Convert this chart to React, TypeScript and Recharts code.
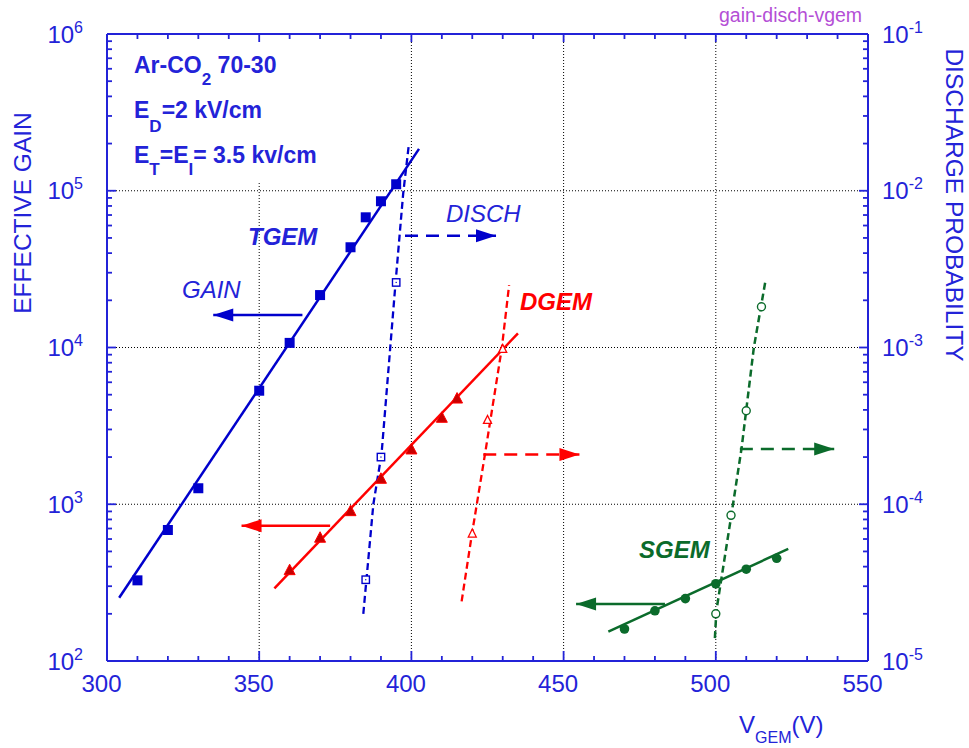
import { ComposedChart, Line, Scatter, XAxis, YAxis, ReferenceLine } from "recharts";

const W = 969;
const H = 748;
// plot frame, px
const PL = 107;
const PR = 868;
const PT = 34;
const PB = 661;

const AXIS = "#2323d8";
const BLUE = "#0000cc";
const RED = "#ff0000";
const DRED = "#c80000";
const GREEN = "#0b6b2b";
const PURPLE = "#b44fd6";
const FONT = "'Liberation Sans', Arial, Helvetica, sans-serif";

// axes
const V_MAJOR = [300, 350, 400, 450, 500, 550];
const V_TICKS = [
  300, 310, 320, 330, 340, 350, 360, 370, 380, 390, 400, 410, 420, 430, 440,
  450, 460, 470, 480, 490, 500, 510, 520, 530, 540, 550,
];
const GAIN_MAJOR = [1e2, 1e3, 1e4, 1e5, 1e6];
const DISCH_MAJOR = [1e-5, 1e-4, 1e-3, 1e-2, 1e-1];
const MINOR_MULT = [2, 3, 4, 5, 6, 7, 8, 9];

// TGEM
const TGEM_V = [310, 320, 330, 350, 360, 370, 380, 385, 390, 395];
const TGEM_GAIN = [327, 685, 1265, 5300, 10700, 21600, 43600, 67700, 85700, 110000];
const TGEM_FIT_V = [304, 402.5];
const TGEM_FIT_GAIN = [253, 185000];
const TGEM_DISCH_V = [385, 390, 395];
const TGEM_DISCH_P = [3.3e-5, 2.0e-4, 2.6e-3];
const TGEM_DISCH_FIT_V = [384.2, 387.5, 390.2, 394.8, 397.3, 399.2];
const TGEM_DISCH_FIT_P = [2.0e-5, 1.0e-4, 2.1e-4, 2.6e-3, 9.6e-3, 2.0e-2];

// DGEM
const DGEM_V = [360, 370, 380, 390, 400, 410, 415];
const DGEM_GAIN = [377, 607, 897, 1443, 2220, 3535, 4690];
const DGEM_FIT_V = [355, 435];
const DGEM_FIT_GAIN = [291, 12300];
const DGEM_DISCH_V = [420, 425, 430];
const DGEM_DISCH_P = [6.5e-5, 3.45e-4, 9.8e-4];
const DGEM_DISCH_FIT_V = [416.5, 419.8, 424.2, 429.7, 432.1];
const DGEM_DISCH_FIT_P = [2.4e-5, 6.3e-5, 2.1e-4, 9.9e-4, 2.5e-3];

// SGEM
const SGEM_V = [470, 480, 490, 500, 510, 520];
const SGEM_GAIN = [160, 209, 250, 311, 385, 452];
const SGEM_FIT_V = [464.7, 523.8];
const SGEM_FIT_GAIN = [154, 519];
const SGEM_DISCH_V = [500, 505, 510, 515];
const SGEM_DISCH_P = [2.0e-5, 8.5e-5, 3.95e-4, 1.82e-3];
const SGEM_DISCH_FIT_V = [499.7, 500.2, 505.3, 508.5, 512.5, 516.4];
const SGEM_DISCH_FIT_P = [1.4e-5, 2.1e-5, 9e-5, 2.3e-4, 1.0e-3, 2.72e-3];

// arrows: [from V, to V], level on the gain axis
const TGEM_GAIN_ARROW = [364.2, 334.9];
const TGEM_GAIN_ARROW_Y = 16100;
const TGEM_DISCH_ARROW = [397.9, 427.8];
const TGEM_DISCH_ARROW_Y = 51600;
const DGEM_GAIN_ARROW = [373.3, 344.2];
const DGEM_GAIN_ARROW_Y = 729;
const DGEM_DISCH_ARROW = [423.6, 455.2];
const DGEM_DISCH_ARROW_Y = 2080;
const SGEM_GAIN_ARROW = [483.3, 454.1];
const SGEM_GAIN_ARROW_Y = 231;
const SGEM_DISCH_ARROW = [507.9, 538.9];
const SGEM_DISCH_ARROW_Y = 2250;

const withMinor = (majors: number[]) =>
  majors.flatMap((m, i) =>
    i === majors.length - 1 ? [m] : [m, ...MINOR_MULT.map((k) => m * k)]
  );
const GAIN_TICKS = withMinor(GAIN_MAJOR);
const DISCH_TICKS = withMinor(DISCH_MAJOR);

const pts = (xs: number[], ys: number[]) => xs.map((x, i) => ({ x, y: ys[i] }));
const flat = (xs: number[], y: number) => xs.map((x) => ({ x, y }));
const exp10 = (v: number) => Math.round(Math.log10(v));

// tick-mark length in axis units
const V_PER_PX = 250 / (PR - PL);
const DEC_PER_PX = 4 / (PB - PT);

// tick labels only; the tick marks are drawn as reference-line segments
function BottomTick(props: any) {
  const { x, payload } = props;
  if (!V_MAJOR.includes(payload.value)) return <g />;
  return (
    <text x={x - 5.5} y={692} textAnchor="middle" fontFamily={FONT} fontSize={24} fill={AXIS}>
      {payload.value}
    </text>
  );
}

function LeftTick(props: any) {
  const { y, payload } = props;
  const v = payload.value;
  if (!GAIN_MAJOR.includes(v)) return <g />;
  return (
    <text x={PL - 24} y={y + 8.5} textAnchor="end" fontFamily={FONT} fontSize={24} fill={AXIS}>
      10
      <tspan dy={-10} fontSize={16}>
        {exp10(v)}
      </tspan>
    </text>
  );
}

function RightTick(props: any) {
  const { y, payload } = props;
  const v = payload.value;
  if (!DISCH_MAJOR.includes(v)) return <g />;
  return (
    <text x={PR + 14} y={y + 8.5} fontFamily={FONT} fontSize={24} fill={AXIS}>
      10
      <tspan dy={-10} fontSize={16}>
        {exp10(v)}
      </tspan>
    </text>
  );
}

const filledSquare = (p: any) => (
  <rect x={p.cx - 5} y={p.cy - 5} width={10} height={10} fill={BLUE} />
);
const openSquare = (p: any) => (
  <g>
    <rect x={p.cx - 3.7} y={p.cy - 3.7} width={7.4} height={7.4} fill="#fff" stroke={BLUE} strokeWidth={1.4} />
    <rect x={p.cx - 0.6} y={p.cy - 0.6} width={1.2} height={1.2} fill={BLUE} />
  </g>
);
const filledTriangle = (p: any) => (
  <polygon
    points={`${p.cx},${p.cy - 6.5} ${p.cx - 5.5},${p.cy + 4} ${p.cx + 5.5},${p.cy + 4}`}
    fill={DRED}
    stroke={RED}
    strokeWidth={1}
  />
);
const openTriangle = (p: any) => (
  <polygon
    points={`${p.cx},${p.cy - 4.5} ${p.cx - 4},${p.cy + 3.5} ${p.cx + 4},${p.cy + 3.5}`}
    fill="#fff"
    stroke={RED}
    strokeWidth={1.3}
  />
);
const filledCircle = (p: any) => <circle cx={p.cx} cy={p.cy} r={4.8} fill={GREEN} />;
const openCircle = (p: any) => (
  <circle cx={p.cx} cy={p.cy} r={4} fill="#fff" stroke={GREEN} strokeWidth={1.4} />
);

const arrowHead = (color: string, xs: number[]) => {
  const dir = Math.sign(xs[1] - xs[0]);
  return (p: any) => {
    if (p.index !== 1) return <g key={p.key} />;
    const { cx, cy } = p;
    return (
      <polygon
        key={p.key}
        points={`${cx},${cy} ${cx - dir * 20},${cy - 6.5} ${cx - dir * 20},${cy + 6.5}`}
        fill={color}
      />
    );
  };
};

const gridProps = {
  xAxisId: "b",
  yAxisId: "g",
  stroke: "#000",
  strokeWidth: 1,
  strokeDasharray: "1 2",
};
const frameProps = {
  xAxisId: "b",
  yAxisId: "g",
  stroke: AXIS,
  strokeWidth: 2,
  ifOverflow: "visible" as const,
};
const tickProps = {
  xAxisId: "b",
  stroke: AXIS,
  strokeWidth: 1.8,
  ifOverflow: "visible" as const,
};

export default function App() {
  const arrow = (
    key: string,
    xs: number[],
    y: number,
    color: string,
    dashed: boolean
  ) => (
    <Line
      key={key}
      data={flat(xs, y)}
      dataKey="y"
      xAxisId="b"
      yAxisId="g"
      stroke={color}
      strokeWidth={2.5}
      strokeDasharray={dashed ? "13 8" : undefined}
      dot={arrowHead(color, xs)}
      activeDot={false}
      isAnimationActive={false}
    />
  );

  return (
    <div style={{ position: "absolute", left: 0, top: 0, width: W, height: H, background: "#fff" }}>
      <ComposedChart width={W} height={H} margin={{ top: PT, right: W - PR - 70, bottom: H - PB - 40, left: PL - 70 }}>
        <XAxis
          xAxisId="b"
          type="number"
          dataKey="x"
          domain={[300, 550]}
          ticks={V_TICKS}
          interval={0}
          allowDataOverflow
          height={40}
          axisLine={false}
          tickLine={false}
          tick={<BottomTick />}
        />
        <YAxis
          yAxisId="g"
          dataKey="y"
          scale="log"
          type="number"
          domain={[1e2, 1e6]}
          ticks={GAIN_TICKS}
          interval={0}
          allowDataOverflow
          width={70}
          axisLine={false}
          tickLine={false}
          tick={<LeftTick />}
        />
        <YAxis
          yAxisId="d"
          orientation="right"
          dataKey="y"
          scale="log"
          type="number"
          domain={[1e-5, 1e-1]}
          ticks={DISCH_TICKS}
          interval={0}
          allowDataOverflow
          width={70}
          axisLine={false}
          tickLine={false}
          tick={<RightTick />}
        />

        {/* dotted grid; the 350 line stops under the text box */}
        <ReferenceLine {...gridProps} segment={[{ x: 350, y: 1e2 }, { x: 350, y: 1.12e5 }]} />
        <ReferenceLine {...gridProps} x={400} />
        <ReferenceLine {...gridProps} x={450} />
        <ReferenceLine {...gridProps} x={500} />
        <ReferenceLine {...gridProps} y={1e3} />
        <ReferenceLine {...gridProps} y={1e4} />
        <ReferenceLine {...gridProps} y={1e5} />

        {/* plot frame */}
        <ReferenceLine {...frameProps} x={300} />
        <ReferenceLine {...frameProps} x={550} />
        <ReferenceLine {...frameProps} y={1e2} />
        <ReferenceLine {...frameProps} y={1e6} />

        {/* inward tick marks */}
        {V_TICKS.map((v) => {
          const major = V_MAJOR.includes(v);
          return [
            <ReferenceLine key={`vb${v}`} {...tickProps} yAxisId="g" segment={[{ x: v, y: 1e2 }, { x: v, y: 1e2 * 10 ** ((major ? 10 : 5) * DEC_PER_PX) }]} />,
            <ReferenceLine key={`vt${v}`} {...tickProps} yAxisId="g" segment={[{ x: v, y: 1e6 }, { x: v, y: 1e6 / 10 ** ((major ? 8 : 5) * DEC_PER_PX) }]} />,
          ];
        })}
        {GAIN_TICKS.map((v) => (
          <ReferenceLine key={`gt${v}`} {...tickProps} yAxisId="g" segment={[{ x: 300, y: v }, { x: 300 + (GAIN_MAJOR.includes(v) ? 9 : 5) * V_PER_PX, y: v }]} />
        ))}
        {DISCH_TICKS.map((v) => (
          <ReferenceLine key={`dt${v}`} {...tickProps} yAxisId="d" segment={[{ x: 550, y: v }, { x: 550 - (DISCH_MAJOR.includes(v) ? 9 : 5) * V_PER_PX, y: v }]} />
        ))}

        {/* gain fits */}
        <Line data={pts(TGEM_FIT_V, TGEM_FIT_GAIN)} dataKey="y" xAxisId="b" yAxisId="g" stroke={BLUE} strokeWidth={2.5} dot={false} activeDot={false} isAnimationActive={false} />
        <Line data={pts(DGEM_FIT_V, DGEM_FIT_GAIN)} dataKey="y" xAxisId="b" yAxisId="g" stroke={RED} strokeWidth={2.5} dot={false} activeDot={false} isAnimationActive={false} />
        <Line data={pts(SGEM_FIT_V, SGEM_FIT_GAIN)} dataKey="y" xAxisId="b" yAxisId="g" stroke={GREEN} strokeWidth={2.5} dot={false} activeDot={false} isAnimationActive={false} />

        {/* discharge fits */}
        <Line data={pts(TGEM_DISCH_FIT_V, TGEM_DISCH_FIT_P)} dataKey="y" xAxisId="b" yAxisId="d" stroke={BLUE} strokeWidth={2.3} strokeDasharray="7 4" dot={false} activeDot={false} isAnimationActive={false} />
        <Line data={pts(DGEM_DISCH_FIT_V, DGEM_DISCH_FIT_P)} dataKey="y" xAxisId="b" yAxisId="d" stroke={RED} strokeWidth={2.3} strokeDasharray="7 4" dot={false} activeDot={false} isAnimationActive={false} />
        <Line data={pts(SGEM_DISCH_FIT_V, SGEM_DISCH_FIT_P)} dataKey="y" xAxisId="b" yAxisId="d" stroke={GREEN} strokeWidth={2.5} strokeDasharray="7 4" dot={false} activeDot={false} isAnimationActive={false} />

        {/* measured points */}
        <Scatter data={pts(TGEM_V, TGEM_GAIN)} xAxisId="b" yAxisId="g" shape={filledSquare} isAnimationActive={false} />
        <Scatter data={pts(DGEM_V, DGEM_GAIN)} xAxisId="b" yAxisId="g" shape={filledTriangle} isAnimationActive={false} />
        <Scatter data={pts(SGEM_V, SGEM_GAIN)} xAxisId="b" yAxisId="g" shape={filledCircle} isAnimationActive={false} />
        <Scatter data={pts(TGEM_DISCH_V, TGEM_DISCH_P)} xAxisId="b" yAxisId="d" shape={openSquare} isAnimationActive={false} />
        <Scatter data={pts(DGEM_DISCH_V, DGEM_DISCH_P)} xAxisId="b" yAxisId="d" shape={openTriangle} isAnimationActive={false} />
        <Scatter data={pts(SGEM_DISCH_V, SGEM_DISCH_P)} xAxisId="b" yAxisId="d" shape={openCircle} isAnimationActive={false} />

        {/* axis arrows */}
        {arrow("a1", TGEM_GAIN_ARROW, TGEM_GAIN_ARROW_Y, BLUE, false)}
        {arrow("a2", TGEM_DISCH_ARROW, TGEM_DISCH_ARROW_Y, BLUE, true)}
        {arrow("a3", DGEM_GAIN_ARROW, DGEM_GAIN_ARROW_Y, RED, false)}
        {arrow("a4", DGEM_DISCH_ARROW, DGEM_DISCH_ARROW_Y, RED, true)}
        {arrow("a5", SGEM_GAIN_ARROW, SGEM_GAIN_ARROW_Y, GREEN, false)}
        {arrow("a6", SGEM_DISCH_ARROW, SGEM_DISCH_ARROW_Y, GREEN, true)}
      </ComposedChart>

      <svg width={W} height={H} style={{ position: "absolute", left: 0, top: 0, pointerEvents: "none" }} fontFamily={FONT}>
        <text x={719} y={22} fontSize={19.5} fill={PURPLE}>gain-disch-vgem</text>

        <g fontSize={23} fontWeight="bold" fill={AXIS}>
          <text x={134} y={73}>
            Ar-CO<tspan dy={12} fontSize={17}>2</tspan>
            <tspan dy={-12}> 70-30</tspan>
          </text>
          <text x={134} y={118}>
            E<tspan dy={14} fontSize={17}>D</tspan>
            <tspan dy={-14}>=2 kV/cm</tspan>
          </text>
          <text x={134} y={163}>
            E<tspan dy={12} fontSize={17}>T</tspan>
            <tspan dy={-12}>=E</tspan>
            <tspan dy={12} fontSize={17}>I</tspan>
            <tspan dy={-12}>= 3.5 kv/cm</tspan>
          </text>
        </g>

        <text x={248} y={245} fontSize={24} fontWeight="bold" fontStyle="italic" fill={AXIS}>TGEM</text>
        <text x={182} y={298} fontSize={24} fontStyle="italic" fill={AXIS}>GAIN</text>
        <text x={446} y={222} fontSize={24} fontStyle="italic" fill={AXIS}>DISCH</text>
        <text x={520} y={310} fontSize={24} fontWeight="bold" fontStyle="italic" fill={RED}>DGEM</text>
        <text x={639} y={558} fontSize={24} fontWeight="bold" fontStyle="italic" fill={GREEN}>SGEM</text>

        <text x={31} y={213} fontSize={24.5} fill={AXIS} textAnchor="middle" transform="rotate(-90 31 213)">
          EFFECTIVE GAIN
        </text>
        <text x={946} y={205} fontSize={24.5} fill={AXIS} textAnchor="middle" transform="rotate(90 946 205)">
          DISCHARGE PROBABILITY
        </text>
        <text x={739} y={733} fontSize={24} fill={AXIS}>
          V<tspan dy={10} fontSize={16}>GEM</tspan>
          <tspan dy={-10}>(V)</tspan>
        </text>
      </svg>
    </div>
  );
}
